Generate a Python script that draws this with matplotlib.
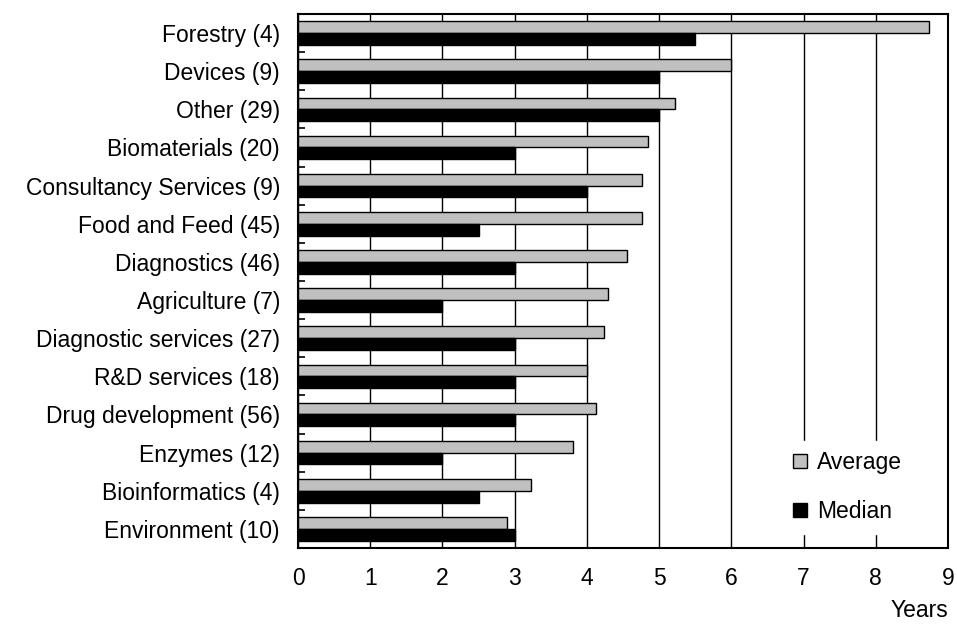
import matplotlib
matplotlib.use("Agg")
import matplotlib.pyplot as plt
import numpy as np
from matplotlib.patches import Patch

categories = [
    "Forestry (4)", "Devices (9)", "Other (29)", "Biomaterials (20)",
    "Consultancy Services (9)", "Food and Feed (45)", "Diagnostics (46)",
    "Agriculture (7)", "Diagnostic services (27)", "R&D services (18)",
    "Drug development (56)", "Enzymes (12)", "Bioinformatics (4)",
    "Environment (10)",
]
average = [8.74, 6.0, 5.22, 4.84, 4.76, 4.76, 4.56, 4.29, 4.23, 4.0, 4.12, 3.81, 3.23, 2.9]
median = [5.5, 5.0, 5.0, 3.0, 4.0, 2.5, 3.0, 2.0, 3.0, 3.0, 3.0, 2.0, 2.5, 3.0]
x_ticks = list(range(0, 10))

plt.rcParams["font.family"] = ["Liberation Sans", "DejaVu Sans"]

fig = plt.figure(figsize=(9.57, 6.36), dpi=100)
ax = fig.add_axes([0.3114, 0.1384, 0.6792, 0.8396])

y = np.arange(len(categories))
h = 0.31
ax.barh(y - h / 2, average, height=h, color="#c0c0c0", edgecolor="black",
        linewidth=1.0, zorder=3, label="Average")
ax.barh(y + h / 2, median, height=h, color="black", edgecolor="black",
        linewidth=1.0, zorder=3, label="Median")

ax.set_ylim(len(categories) - 0.5, -0.5)
ax.set_xlim(0, 9)
ax.set_xticks(x_ticks)
ax.set_xticklabels([str(t) for t in x_ticks], fontsize=16.5)
ax.tick_params(axis="x", length=0, pad=14)
ax.xaxis.grid(True, color="black", linewidth=1.0, zorder=1)
ax.set_axisbelow(True)

ax.set_yticks(y)
ax.set_yticklabels(categories, fontsize=16.5)
ax.tick_params(axis="y", which="major", length=0, pad=13)
ax.set_yticks(np.arange(-0.5, len(categories) + 0.5, 1.0), minor=True)
ax.tick_params(axis="y", which="minor", direction="in", length=5, width=1.2)

for side in ["left", "right", "top", "bottom"]:
    ax.spines[side].set_color("black")
    ax.spines[side].set_linewidth(1.5)

ax.set_xlabel("Years", fontsize=16.5, loc="right", labelpad=6)

handles = [Patch(facecolor="#c0c0c0", edgecolor="black", linewidth=1.0),
           Patch(facecolor="black", edgecolor="black", linewidth=1.0)]
leg = ax.legend(handles, ["Average", "Median"], loc="center",
                bbox_to_anchor=(0.846, 0.114), fontsize=16.5,
                handlelength=0.6, handleheight=0.6, handletextpad=0.45,
                labelspacing=1.15, borderpad=0.45, frameon=True,
                fancybox=False, framealpha=1.0, facecolor="white",
                edgecolor="white")
leg.set_zorder(5)

fig.savefig("out.png", dpi=100)
